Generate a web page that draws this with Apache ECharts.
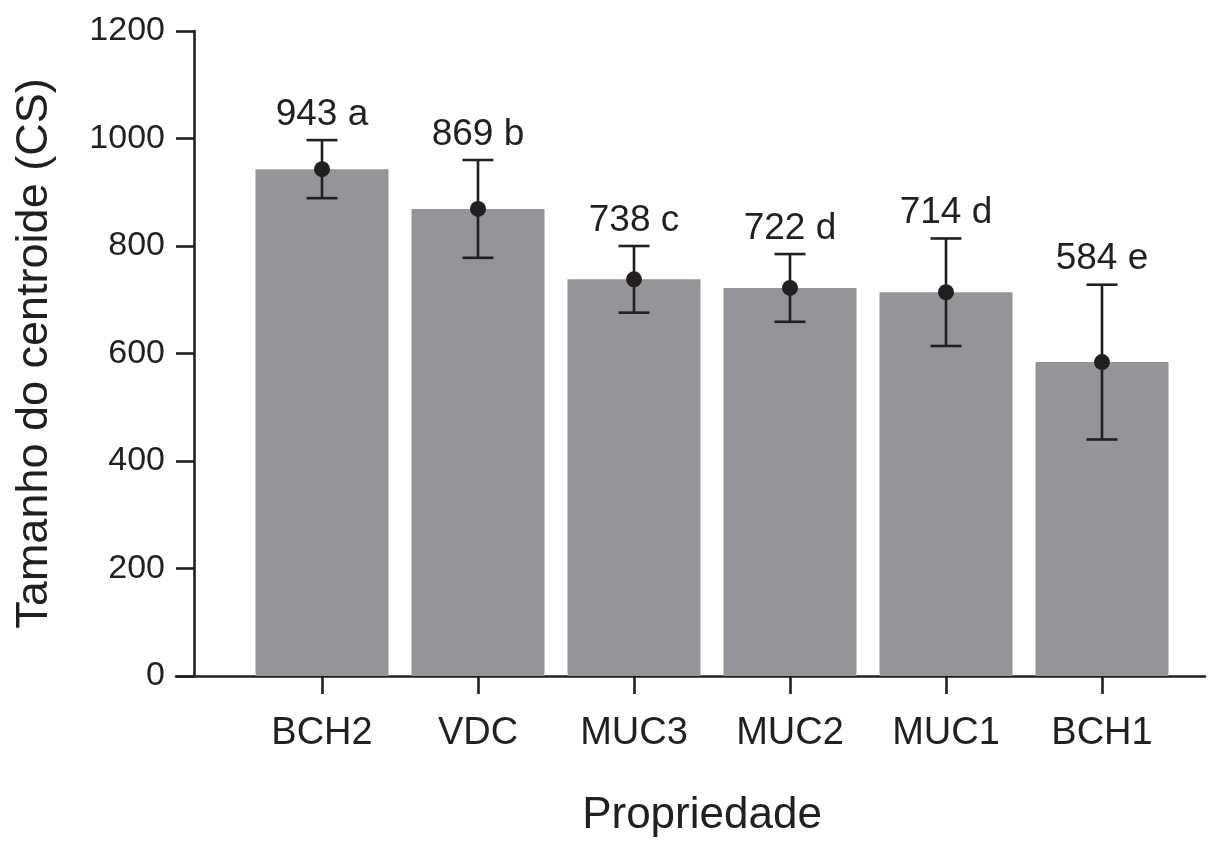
<!DOCTYPE html>
<html>
<head>
<meta charset="utf-8">
<script src="https://cdn.jsdelivr.net/npm/echarts@6/dist/echarts.min.js"></script>
<style>
  html, body { margin: 0; padding: 0; background: #ffffff; }
  #chart { width: 1208px; height: 844px; }
</style>
</head>
<body>
<div id="chart"></div>
<script>
// Centroid size per property: mean, standard deviation and group letter
const categories = ['BCH2', 'VDC', 'MUC3', 'MUC2', 'MUC1', 'BCH1'];
const means = [943, 869, 738, 722, 714, 584];
const sds = [54, 91, 62, 63, 100, 144];
const letters = ['a', 'b', 'c', 'd', 'd', 'e'];
const yTicks = [0, 200, 400, 600, 800, 1000, 1200];

const FONT = "'Liberation Sans', Arial, Helvetica, sans-serif";
const INK = '#231f20';
const BAR = '#939598';

const chart = echarts.init(document.getElementById('chart'), null, { renderer: 'canvas' });

const errData = categories.map((c, i) => [i, means[i], sds[i]]);
const labelData = categories.map((c, i) => ({
  value: [i, means[i] + sds[i]],
  label: { formatter: means[i] + ' ' + letters[i] }
}));

chart.setOption({
  animation: false,
  backgroundColor: '#ffffff',
  grid: [
    { left: 244, right: 28, top: 31, bottom: 168, containLabel: false },
    { left: 176, right: 3, top: 31, bottom: 168, containLabel: false }
  ],
  xAxis: [
    {
      type: 'category',
      gridIndex: 0,
      data: categories,
      boundaryGap: true,
      axisLine: { show: false },
      axisTick: { show: true, alignWithLabel: true, length: 18, lineStyle: { color: INK, width: 2.6 } },
      axisLabel: { color: INK, fontFamily: FONT, fontSize: 38, margin: 39 },
      splitLine: { show: false },
      name: 'Propriedade',
      nameLocation: 'middle',
      nameGap: 118,
      nameTextStyle: { color: INK, fontFamily: FONT, fontSize: 44, padding: [0, 20, 0, 0] }
    },
    {
      type: 'value',
      gridIndex: 1,
      min: 0,
      max: 1,
      axisLine: { show: true, lineStyle: { color: INK, width: 2.6 } },
      axisTick: { show: false },
      axisLabel: { show: false },
      splitLine: { show: false }
    }
  ],
  yAxis: [
    {
      type: 'value',
      gridIndex: 0,
      min: yTicks[0],
      max: yTicks[yTicks.length - 1],
      interval: yTicks[1] - yTicks[0],
      offset: 50,
      axisLine: { show: true, lineStyle: { color: INK, width: 2.6 } },
      axisTick: { show: true, length: 18, lineStyle: { color: INK, width: 2.6 } },
      axisLabel: {
        color: INK, fontFamily: FONT, fontSize: 34, margin: 29,
        formatter: function (v) { return String(v); }
      },
      splitLine: { show: false },
      name: 'Tamanho do centroide (CS)',
      nameLocation: 'middle',
      nameGap: 137,
      nameTextStyle: { color: INK, fontFamily: FONT, fontSize: 45 }
    },
    {
      type: 'value',
      gridIndex: 1,
      show: false,
      min: 0,
      max: 1
    }
  ],
  series: [
    {
      type: 'bar',
      xAxisIndex: 0,
      yAxisIndex: 0,
      data: means,
      barWidth: 133,
      itemStyle: { color: BAR },
      z: 2
    },
    {
      type: 'custom',
      xAxisIndex: 0,
      yAxisIndex: 0,
      data: errData,
      z: 5,
      renderItem: function (params, api) {
        const idx = api.value(0);
        const m = api.value(1);
        const s = api.value(2);
        const top = api.coord([idx, m + s]);
        const bot = api.coord([idx, m - s]);
        const mid = api.coord([idx, m]);
        const half = 15.5;
        const style = { stroke: INK, lineWidth: 2.6 };
        return {
          type: 'group',
          children: [
            { type: 'line', shape: { x1: top[0], y1: top[1], x2: bot[0], y2: bot[1] }, style: style },
            { type: 'line', shape: { x1: top[0] - half, y1: top[1], x2: top[0] + half, y2: top[1] }, style: style },
            { type: 'line', shape: { x1: bot[0] - half, y1: bot[1], x2: bot[0] + half, y2: bot[1] }, style: style },
            { type: 'circle', shape: { cx: mid[0], cy: mid[1], r: 8 }, style: { fill: INK } }
          ]
        };
      }
    },
    {
      type: 'scatter',
      xAxisIndex: 0,
      yAxisIndex: 0,
      data: labelData,
      symbolSize: 0,
      silent: true,
      z: 6,
      itemStyle: { opacity: 1, color: INK },
      label: {
        show: true,
        position: 'top',
        distance: 7,
        opacity: 1,
        color: INK,
        fontFamily: FONT,
        fontSize: 37
      }
    }
  ]
});
</script>
</body>
</html>
